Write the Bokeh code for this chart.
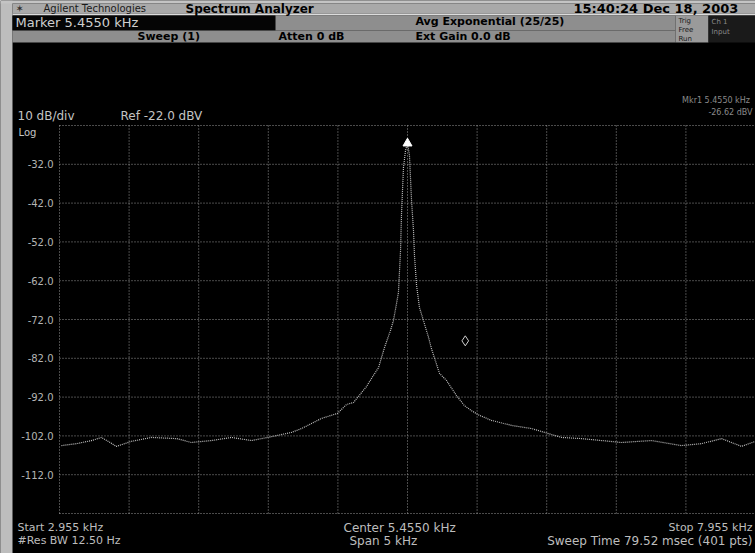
from bokeh.plotting import figure
from bokeh.models import BoxAnnotation, Label
from bokeh.core.properties import value
from bokeh.embed import file_html
from bokeh.resources import INLINE

# ---------------- data ----------------
freq_khz = [2.969, 3.077, 3.185, 3.257, 3.364, 3.472, 3.616, 3.796, 3.903, 4.047,
            4.191, 4.334, 4.478, 4.622, 4.694, 4.837, 4.952, 5.017, 5.067, 5.160,
            5.196, 5.247, 5.290, 5.333, 5.354, 5.376, 5.390, 5.405, 5.412, 5.419,
            5.426, 5.441, 5.455, 5.469, 5.484, 5.498, 5.505, 5.520, 5.541, 5.563,
            5.606, 5.627, 5.685, 5.735, 5.807, 5.864, 5.915, 5.972, 6.058, 6.202,
            6.346, 6.561, 6.705, 6.849, 6.992, 7.208, 7.423, 7.567, 7.711, 7.854,
            7.955]
level_dbv = [-104.5, -104.0, -103.2, -102.4, -104.7, -103.4, -102.4, -102.7, -103.7, -103.2,
             -102.4, -103.2, -102.2, -101.1, -100.1, -97.5, -96.2, -93.9, -93.4, -89.3,
             -87.2, -84.4, -79.2, -74.8, -72.3, -67.9, -65.0, -54.2, -44.7, -38.8,
             -32.8, -28.4, -26.6, -29.7, -41.3, -49.1, -55.5, -63.2, -68.9, -71.5,
             -76.6, -79.5, -85.9, -87.7, -91.6, -94.2, -95.5, -96.7, -98.0, -99.3,
             -100.1, -102.4, -102.7, -103.2, -103.7, -103.2, -104.5, -104.0, -102.7, -104.7,
             -103.4]
marker_freq = [5.455]
marker_level = [-26.6]
marker2_freq = [5.87]
marker2_level = [-77.5]

start_khz = 2.955
stop_khz = 7.955
ref_dbv = -22.0
bottom_dbv = -122.0
x_grid = [2.955, 3.455, 3.955, 4.455, 4.955, 5.455, 5.955, 6.455, 6.955, 7.455, 7.955]
y_grid = [-22, -32, -42, -52, -62, -72, -82, -92, -102, -112, -122]
y_ticks = [-32, -42, -52, -62, -72, -82, -92, -102, -112]
y_tick_labels = ["-32.0", "-42.0", "-52.0", "-62.0", "-72.0", "-82.0", "-92.0", "-102.0", "-112.0"]

# ---------------- layout (pixels of the 755x553 canvas) ----------------
W, H = 755, 553
GL, GR, GT, GB = 59, 755, 125, 513          # graticule edges in px
kpp = (stop_khz - start_khz) / (GR - GL)
dpp = (ref_dbv - bottom_dbv) / (GB - GT)
x_rng = (start_khz - GL * kpp, stop_khz + (W - GR) * kpp)
y_rng = (bottom_dbv - (H - GB) * dpp, ref_dbv + GT * dpp)

FONT = "DejaVu Sans"

p = figure(width=W, height=H, x_range=x_rng, y_range=y_rng,
           output_backend="svg", toolbar_location=None,
           x_axis_location=None, y_axis_location=None,
           min_border=0, min_border_left=0, min_border_right=0,
           min_border_top=0, min_border_bottom=0,
           background_fill_color="black", border_fill_color="black")
p.outline_line_color = None
p.xgrid.visible = False
p.ygrid.visible = False

# ---------------- header boxes (screen px, y measured from top) ----------------
def box(x0, y0, x1, y1, color):
    p.add_layout(BoxAnnotation(left=x0, right=x1, top=H - y0, bottom=H - y1,
                               left_units="screen", right_units="screen",
                               top_units="screen", bottom_units="screen",
                               fill_color=color, fill_alpha=1.0, line_color=None,
                               level="underlay"))

box(0, 0, 12, H, "#bdbdbd")             # stippled left border
box(0, 0, W, 3, "#c4c4c4")
box(12, 3, W, 13, "#a9a9a9")            # title bar
box(12, 13, W, 15, "#dcdcdc")
box(12, 15, 275, 30, "#050505")         # marker box
box(275, 15, 675, 30, "#8e8e8e")
box(12, 30, 675, 42, "#8e8e8e")
box(675, 15, 708, 42, "#9a9a9a")
box(708, 15, W, 42, "#1a1a1a")

# ---------------- graticule ----------------
p.segment(x0=x_grid, y0=[bottom_dbv] * len(x_grid), x1=x_grid, y1=[ref_dbv] * len(x_grid),
          line_color="#b0b0b0", line_dash="1 2", line_alpha=0.85, line_width=1)
p.segment(x0=[start_khz] * len(y_grid), y0=y_grid, x1=[stop_khz] * len(y_grid), y1=y_grid,
          line_color="#b0b0b0", line_dash="1 2", line_alpha=0.85, line_width=1)
p.text(x=[start_khz] * len(y_ticks), y=y_ticks, text=y_tick_labels,
       x_offset=-6, text_align="right", text_baseline="middle",
       text_color="#b4b4b4", text_font_size="10px", text_font=value(FONT))

# ---------------- trace and markers ----------------
p.line(freq_khz, level_dbv, line_color="#d6d6d6", line_width=1.2, line_dash="1 1",
       line_alpha=0.9)
p.scatter(marker_freq, marker_level, marker="triangle", size=9,
          fill_color="white", line_color="white")
p.scatter(marker2_freq, marker2_level, marker="diamond", size=10,
          fill_color=None, line_color="#d0d0d0", line_width=1)

# ---------------- texts ----------------
def label(X, Y, text, color, size, bold=False, align="left"):
    p.add_layout(Label(x=X, y=H - Y, x_units="screen", y_units="screen", text=text,
                       text_color=color, text_font_size=f"{size}px", text_font=FONT,
                       text_font_style="bold" if bold else "normal",
                       text_align=align, text_baseline="middle"))

label(15, 8, "\u2736", "#303030", 10)
label(43, 8, "Agilent Technologies", "#1a1a1a", 10)
label(185, 8, "Spectrum Analyzer", "#000000", 12, bold=True)
label(573, 8, "15:40:24  Dec 18, 2003", "#000000", 13, bold=True)

label(15, 22, "Marker 5.4550 kHz", "#cfcfcf", 13)
label(415, 21, "Avg Exponential (25/25)", "#000000", 11, bold=True)
label(137, 36, "Sweep (1)", "#000000", 11, bold=True)
label(278, 36, "Atten 0 dB", "#000000", 11, bold=True)
label(415, 36, "Ext Gain 0.0 dB", "#000000", 11, bold=True)
label(678, 20, "Trig", "#202020", 7)
label(678, 29, "Free", "#202020", 7)
label(678, 38, "Run", "#202020", 7)
label(711, 21, "Ch 1", "#8a8a8a", 7)
label(711, 31, "Input", "#8a8a8a", 7)

label(17, 115, "10 dB/div", "#c4c4c4", 12)
label(120, 115, "Ref -22.0 dBV", "#c4c4c4", 12)
label(18, 132, "Log", "#c4c4c4", 10)
label(752, 100, "Mkr1  5.4550 kHz", "#8a8a8a", 8, align="right")
label(752, 112, "-26.62 dBV", "#8a8a8a", 8, align="right")

label(17, 527, "Start 2.955 kHz", "#bdbdbd", 11)
label(17, 540, "#Res BW 12.50 Hz", "#bdbdbd", 11)
label(343, 527, "Center 5.4550 kHz", "#bdbdbd", 12)
label(349, 540, "Span 5 kHz", "#bdbdbd", 12)
label(752, 527, "Stop 7.955 kHz", "#bdbdbd", 11, align="right")
label(752, 540, "Sweep Time 79.52 msec (401 pts)", "#bdbdbd", 12, align="right")

open("out.html", "w").write(file_html(p, INLINE))
